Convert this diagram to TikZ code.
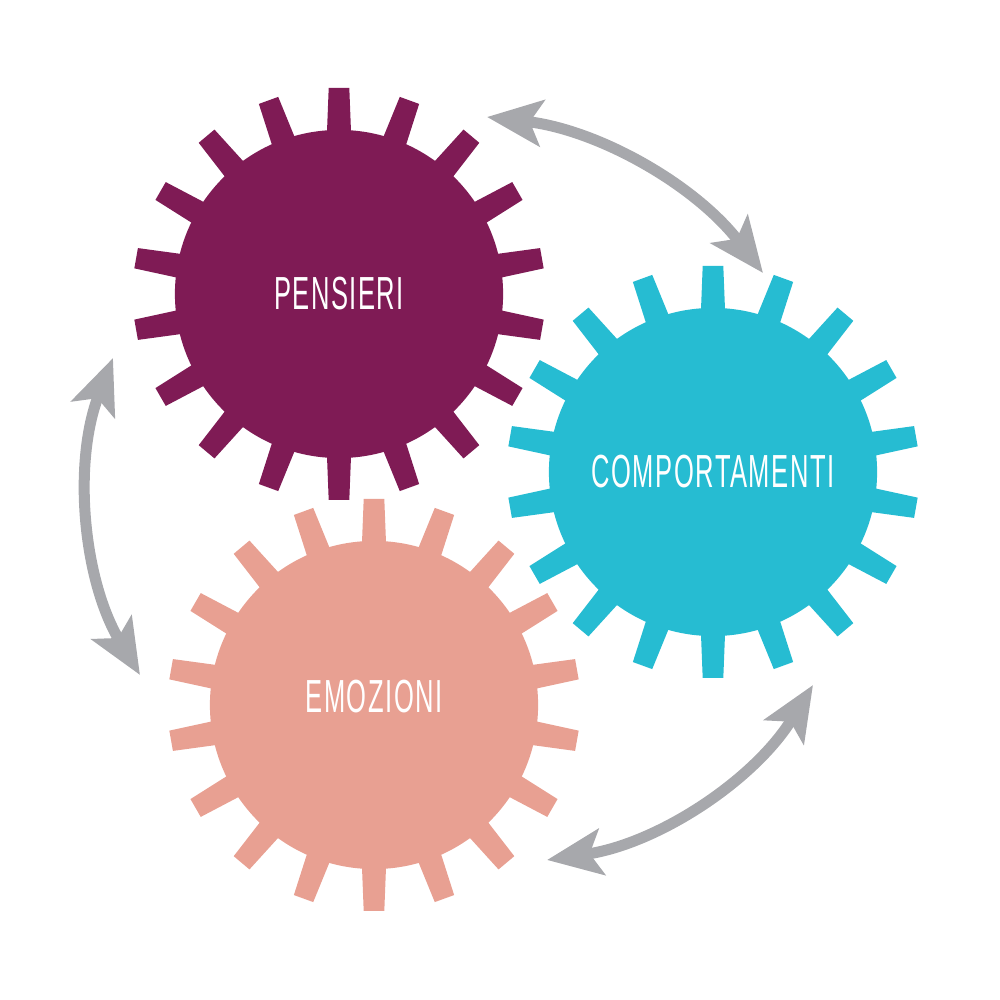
\documentclass[tikz,border=0pt]{standalone}
\usepackage{fontspec}
\setmainfont{Liberation Sans}[FakeStretch=0.55,LetterSpace=3.3]
\usetikzlibrary{arrows.meta}

\definecolor{plum}{RGB}{127,27,85}
\definecolor{turq}{RGB}{38,188,210}
\definecolor{salmon}{RGB}{232,160,146}
\definecolor{arrowgray}{RGB}{167,168,172}

\tikzset{
  gear/.style={circle,minimum size=3.28cm,inner sep=0pt,text=white,
    font=\fontsize{13.2}{15}\selectfont},
  twoway/.style={draw=arrowgray,line width=1.1mm,
    {Stealth[length=5.5mm,width=4.6mm,inset=1.2mm]}-{Stealth[length=5.5mm,width=4.6mm,inset=1.2mm]}}
}

% 18 teeth round a gear node
\newcommand{\gearteeth}[2]{%
  \foreach \a in {10,30,...,350}
    \fill[#2,shift={(#1.center)},rotate=\a] (150,-12.5) -- (206,-10.3) -- (206,10.3) -- (150,12.5) -- cycle;
}

\begin{document}
\begin{tikzpicture}[x=0.01cm,y=0.01cm]
\useasboundingbox (0,0) rectangle (1000,1000);

\node(P)[gear,fill=plum] at (339,706) {PENSIERI};
\node(C)[gear,fill=turq] at (713,528) {COMPORTAMENTI};
\node(E)[gear,fill=salmon,text depth=1.8mm] at (374,295) {EMOZIONI};

\gearteeth{P}{plum}
\gearteeth{C}{turq}
\gearteeth{E}{salmon}

\coordinate (t1) at (487,883);
\coordinate (t2) at (763,727);
\coordinate (l1) at (113,642);
\coordinate (l2) at (140,325);
\coordinate (b1) at (813,315);
\coordinate (b2) at (547,140);

\draw[twoway] (t1) to[bend left=23,looseness=0.9] (t2);
\draw[twoway] (l1) to[bend right=26,looseness=0.9] (l2);
\draw[twoway] (b1) to[bend left=25,looseness=0.9] (b2);

\end{tikzpicture}
\end{document}
